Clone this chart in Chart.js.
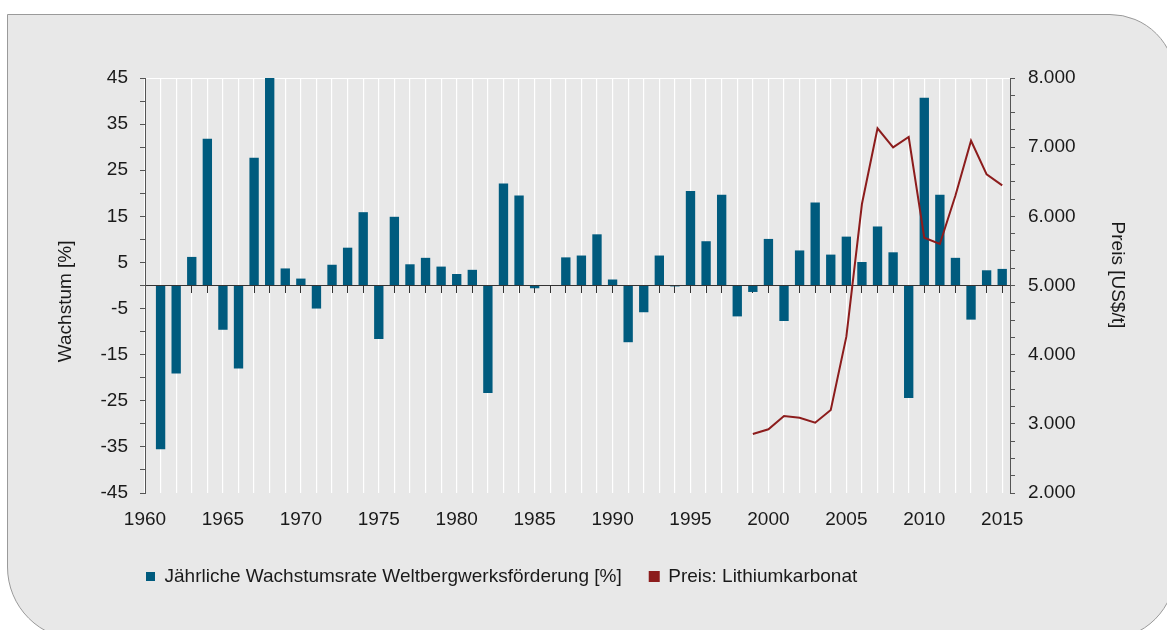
<!DOCTYPE html>
<html>
<head>
<meta charset="utf-8">
<script src="https://cdn.jsdelivr.net/npm/chart.js@4"></script>
<style>
  html, body { margin: 0; padding: 0; background: #fff; }
  #card {
    position: absolute; left: 7px; top: 14px; width: 1169px; height: 626px;
    box-sizing: border-box; background: #e8e8e8; border: 1px solid #9a9a9a;
    border-radius: 0 66px 70px 73px;
  }
  #chart { position: absolute; left: 0; top: 0; }
</style>
</head>
<body>
<div id="card"></div>
<canvas id="chart" width="1167" height="630"></canvas>
<script>
// Jährliche Wachstumsrate der Weltbergwerksförderung (Lithium), 1961-2015
const growthYears = [1961, 1962, 1963, 1964, 1965, 1966, 1967, 1968, 1969, 1970,
  1971, 1972, 1973, 1974, 1975, 1976, 1977, 1978, 1979, 1980,
  1981, 1982, 1983, 1984, 1985, 1986, 1987, 1988, 1989, 1990,
  1991, 1992, 1993, 1994, 1995, 1996, 1997, 1998, 1999, 2000,
  2001, 2002, 2003, 2004, 2005, 2006, 2007, 2008, 2009, 2010,
  2011, 2012, 2013, 2014, 2015];
const growth = [-35.5, -19.1, 6.2, 31.8, -9.6, -18.0, 27.7, 45.0, 3.7, 1.5,
  -5.0, 4.5, 8.2, 15.9, -11.6, 14.9, 4.6, 6.0, 4.1, 2.5,
  3.4, -23.3, 22.1, 19.5, -0.6, 0, 6.1, 6.5, 11.1, 1.3,
  -12.3, -5.8, 6.5, -0.2, 20.5, 9.6, 19.7, -6.7, -1.4, 10.1,
  -7.7, 7.6, 18.0, 6.7, 10.6, 5.1, 12.8, 7.2, -24.4, 40.7,
  19.7, 6.0, -7.4, 3.3, 3.6];

// Preis Lithiumkarbonat [US$/t]
const priceYears = [1999, 2000, 2001, 2002, 2003, 2004, 2005, 2006, 2007,
  2008, 2009, 2010, 2011, 2012, 2013, 2014, 2015];
const price = [2853, 2921, 3113, 3089, 3017, 3200, 4260, 6178, 7272,
  6998, 7147, 5691, 5600, 6300, 7093, 6607, 6448];

const growthLabel = 'Jährliche Wachstumsrate Weltbergwerksförderung [%]';
const priceLabel = 'Preis: Lithiumkarbonat';

// trailing no-break spaces nudge the rotated axis titles off-centre like the original
const leftTitle = 'Wachstum [%]' + '\u00a0'.repeat(6);
const rightTitle = 'Preis [US$/t]' + '\u00a0'.repeat(4);

const font = { family: '"Liberation Sans", Arial, sans-serif', size: 19 };
const txt = '#1a1a1a';
const axisCol = '#555';

const legendShift = 118;

const toPoints = (xs, ys) => xs.map((x, i) => ({ x: x, y: ys[i] }));

const fmtPrice = v => (v % 1000 === 0 ? (v / 1000) + '.000' : '');

const chart = new Chart('chart', {
  type: 'bar',
  data: {
    datasets: [{
      type: 'bar',
      label: growthLabel,
      data: toPoints(growthYears, growth),
      backgroundColor: '#005b7e',
      borderWidth: 0,
      barPercentage: 0.6,
      categoryPercentage: 1.0,
      xAxisID: 'x',
      yAxisID: 'y',
      order: 1
    }, {
      type: 'line',
      label: priceLabel,
      data: toPoints(priceYears, price),
      borderColor: '#8c1c1c',
      backgroundColor: '#8c1c1c',
      borderWidth: 2,
      pointRadius: 0,
      tension: 0,
      xAxisID: 'x',
      yAxisID: 'y1',
      order: 0
    }]
  },
  options: {
    responsive: false,
    animation: false,
    layout: { padding: { left: 0, right: 0, top: 78, bottom: 34 } },
    plugins: {
      tooltip: { enabled: false },
      legend: {
        position: 'bottom',
        align: 'start',
        labels: {
          font: font, color: txt, boxWidth: 9, boxHeight: 9, padding: 28,
          sort: (a, b) => a.datasetIndex - b.datasetIndex
        }
      }
    },
    scales: {
      x: {
        type: 'linear', position: 'bottom', min: 1960, max: 2015.5, offset: false,
        grid: { color: '#ffffff', lineWidth: 1.2, drawTicks: false, offset: false },
        border: { display: false },
        ticks: {
          stepSize: 1, includeBounds: false, autoSkip: false, maxRotation: 0, maxTicksLimit: 100,
          padding: 15, font: font, color: txt,
          callback: v => (v % 5 === 0 ? String(v) : '')
        },
        afterFit: s => { s.height = 46; }
      },
      xz: {
        type: 'linear', axis: 'x', position: { y: 0 }, min: 1960, max: 2015.5, offset: false, z: 1,
        grid: { drawOnChartArea: false, drawTicks: true, tickLength: 7, color: '#333', offset: false },
        border: { color: '#333', width: 1 },
        ticks: { stepSize: 1, includeBounds: false, autoSkip: false, maxTicksLimit: 100, display: false }
      },
      y: {
        type: 'linear', position: 'left', min: -45, max: 45,
        grid: {
          drawOnChartArea: true, tickLength: 5, tickColor: axisCol,
          color: c => (c.tick && c.tick.value === 45 ? '#ffffff' : 'rgba(0,0,0,0)')
        },
        border: { color: axisCol },
        ticks: {
          stepSize: 5, autoSkip: false, padding: 12, font: font, color: txt,
          callback: v => (Math.abs(v % 10) === 5 ? String(v) : '')
        },
        title: { display: true, text: leftTitle, font: font, color: txt, padding: { top: 54, bottom: 0 } },
        afterFit: s => { s.width = 145; }
      },
      y1: {
        type: 'linear', position: 'right', min: 2000, max: 8000,
        grid: { drawOnChartArea: false, tickLength: 5, color: axisCol },
        border: { color: axisCol },
        ticks: {
          stepSize: 250, autoSkip: false, padding: 13, font: font, color: txt,
          callback: fmtPrice
        },
        title: { display: true, text: rightTitle, font: font, color: txt, padding: { top: 38, bottom: 0 } },
        afterFit: s => { s.width = 157; }
      }
    }
  },
  plugins: [{
    id: 'legendShift',
    afterLayout: c => {
      c.legend.left += legendShift;
      c.legend.right += legendShift;
    }
  }]
});
</script>
</body>
</html>
